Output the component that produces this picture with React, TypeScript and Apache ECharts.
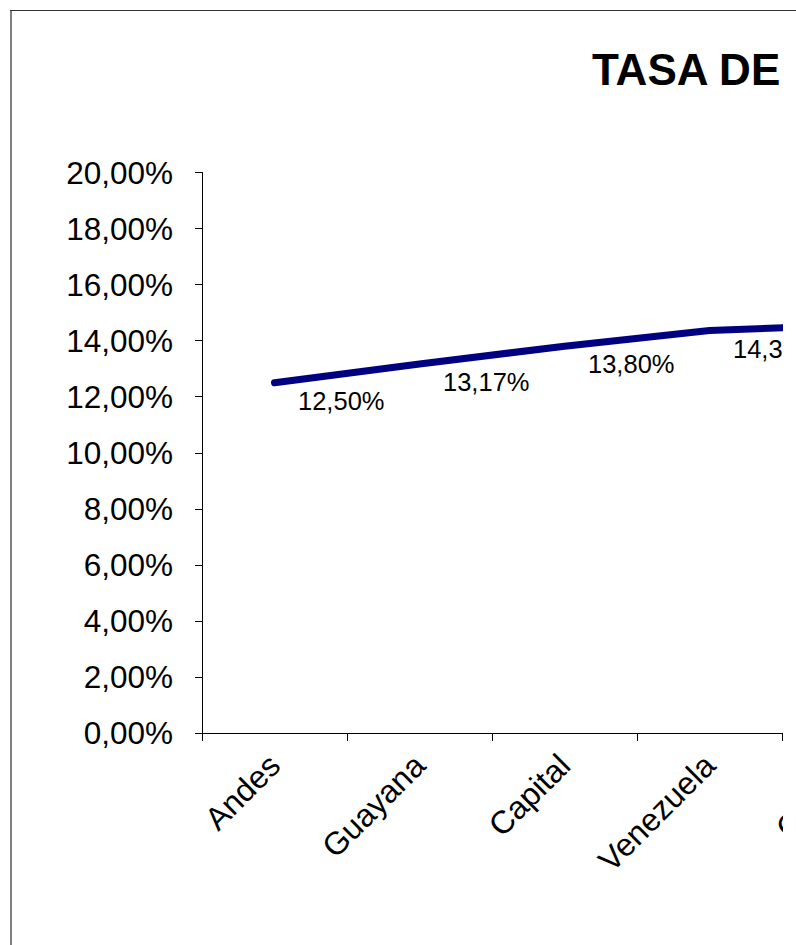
import React, { useEffect, useRef } from "react";
import * as echarts from "echarts";

const categories = ["Andes", "Guayana", "Capital", "Venezuela", "Central"];
const rates = [12.5, 13.17, 13.8, 14.36, 14.56];
const titleText = "TASA DE DESEMPLEO";
const yMin = 0;
const yMax = 20;
const yStep = 2;

const FONT = "'Liberation Sans', Arial, sans-serif";
const fmt = (v: number) => v.toFixed(2).replace(".", ",") + "%";

export default function App() {
  const ref = useRef<HTMLDivElement>(null);
  useEffect(() => {
    if (!ref.current) return;
    const chart = echarts.init(ref.current, null, { renderer: "svg" });
    chart.setOption({
      animation: false,
      backgroundColor: "#ffffff",
      title: {
        text: titleText,
        left: 592,
        top: 47.5,
        padding: 0,
        textStyle: { fontFamily: FONT, fontSize: 44, fontWeight: "bold", color: "#000" },
      },
      grid: { left: 202, top: 172.5, width: 725, height: 560.5 },
      xAxis: {
        type: "category",
        data: categories,
        boundaryGap: true,
        axisLine: { lineStyle: { color: "#000", width: 1 } },
        axisTick: { show: true, length: 8, lineStyle: { color: "#000" } },
        axisLabel: {
          rotate: 45,
          margin: 27,
          interval: 0,
          fontFamily: FONT,
          fontSize: 32,
          color: "#000",
        },
      },
      yAxis: {
        type: "value",
        min: yMin,
        max: yMax,
        interval: yStep,
        axisLine: { show: true, lineStyle: { color: "#000", width: 1 } },
        axisTick: { show: true, length: 7, lineStyle: { color: "#000" } },
        splitLine: { show: false },
        axisLabel: {
          margin: 29,
          fontFamily: FONT,
          fontSize: 31.5,
          color: "#000",
          formatter: (v: number) => fmt(v),
        },
      },
      series: [
        {
          type: "line",
          data: rates,
          showSymbol: true,
          symbol: "circle",
          symbolSize: 1,
          itemStyle: { color: "#000080" },
          lineStyle: { color: "#000080", width: 7, cap: "round", join: "round" },
          label: {
            show: true,
            position: "right",
            distance: 5,
            offset: [18, 18],
            fontFamily: FONT,
            fontSize: 25.5,
            color: "#000",
            formatter: (p: any) => fmt(p.value),
          },
        },
      ],
    });
    return () => chart.dispose();
  }, []);
  return (
    <div style={{ position: "fixed", left: 0, top: 0, width: 796, height: 945, overflow: "hidden", background: "#fff" }}>
      <div style={{ position: "absolute", left: 0, top: 0, width: 783, height: 945, overflow: "hidden" }}>
        <div ref={ref} style={{ width: 1010, height: 980 }} />
      </div>
      <div style={{ position: "absolute", left: 10, top: 10, width: 2, height: 935, background: "#808080" }} />
      <div style={{ position: "absolute", left: 10, top: 10, width: 786, height: 1, background: "#333" }} />
    </div>
  );
}
